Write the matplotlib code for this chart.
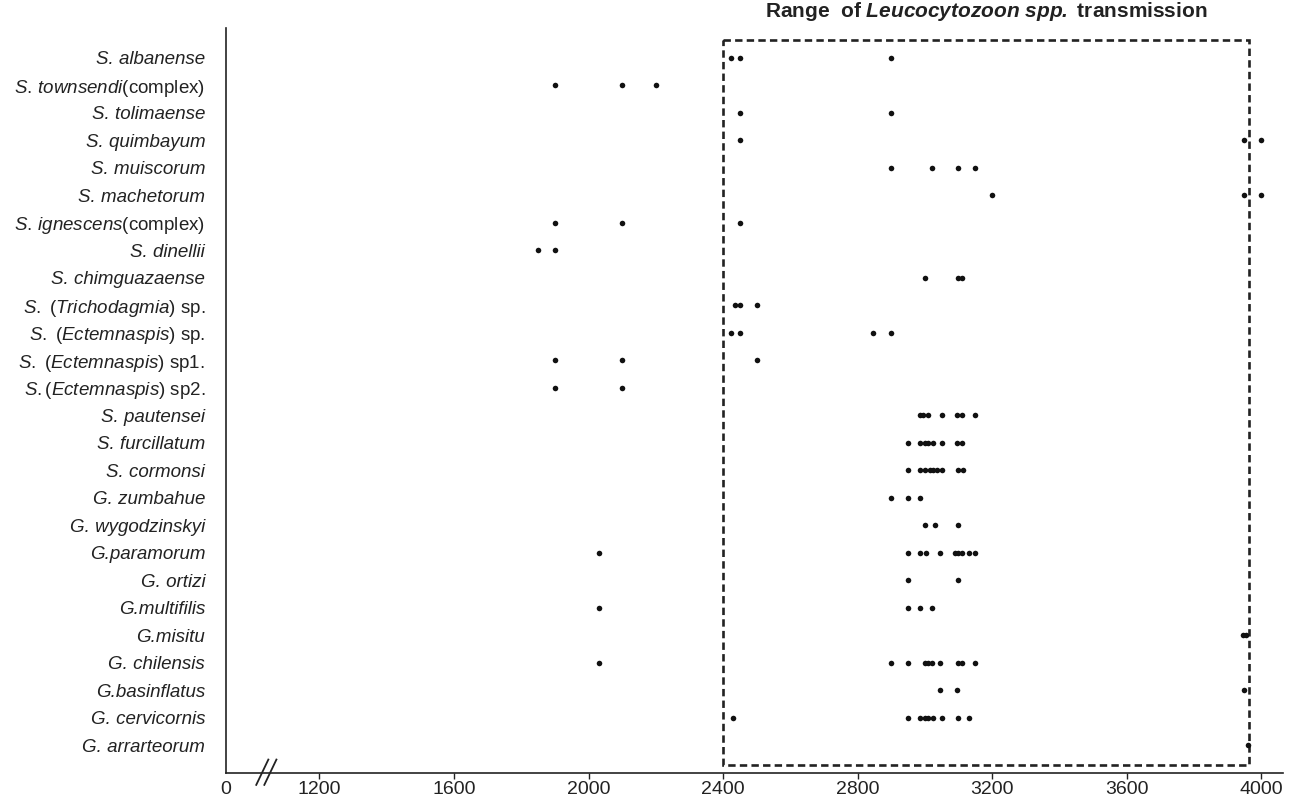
import matplotlib
matplotlib.use("Agg")
import matplotlib.pyplot as plt
from matplotlib.patches import Rectangle
from matplotlib.transforms import blended_transform_factory

plt.rcParams['font.family'] = 'Liberation Sans'
plt.rcParams['mathtext.fontset'] = 'custom'
plt.rcParams['mathtext.rm'] = 'Liberation Sans'
plt.rcParams['mathtext.it'] = 'Liberation Sans:italic'
plt.rcParams['mathtext.bfit'] = 'Liberation Sans:italic:bold'

# species, top to bottom
species = [
    "S. albanense",
    r"$\mathit{S.\,townsendi}$(complex)",
    "S. tolimaense",
    "S. quimbayum",
    "S. muiscorum",
    "S. machetorum",
    r"$\mathit{S.\,ignescens}$(complex)",
    "S. dinellii",
    "S. chimguazaense",
    r"$\mathit{S.}$ ($\mathit{Trichodagmia}$) sp.",
    r"$\mathit{S.}$ ($\mathit{Ectemnaspis}$) sp.",
    r"$\mathit{S.}$ ($\mathit{Ectemnaspis}$) sp1.",
    r"$\mathit{S.}$($\mathit{Ectemnaspis}$) sp2.",
    "S. pautensei",
    "S. furcillatum",
    "S. cormonsi",
    "G. zumbahue",
    "G. wygodzinskyi",
    "G.paramorum",
    "G. ortizi",
    "G.multifilis",
    "G.misitu",
    "G. chilensis",
    "G.basinflatus",
    "G. cervicornis",
    "G. arrarteorum",
]

# altitudes (m) where each species was collected
altitudes = [
    [2425, 2450, 2900],
    [1900, 2100, 2200],
    [2450, 2900],
    [2450, 3950, 4000],
    [2900, 3020, 3100, 3150],
    [3200, 3950, 4000],
    [1900, 2100, 2450],
    [1850, 1900],
    [3000, 3100, 3110],
    [2435, 2450, 2500],
    [2425, 2450, 2845, 2900],
    [1900, 2100, 2500],
    [1900, 2100],
    [2985, 2995, 3010, 3050, 3095, 3110, 3150],
    [2950, 2985, 3000, 3010, 3025, 3050, 3095, 3110],
    [2950, 2985, 3000, 3015, 3025, 3035, 3050, 3100, 3115],
    [2900, 2950, 2985],
    [3000, 3030, 3100],
    [2030, 2950, 2985, 3005, 3045, 3090, 3100, 3110, 3130, 3150],
    [2950, 3100],
    [2030, 2950, 2985, 3020],
    [3945, 3955],
    [2030, 2900, 2950, 3000, 3010, 3020, 3045, 3100, 3110, 3150],
    [3045, 3095, 3950],
    [2430, 2950, 2985, 3000, 3010, 3025, 3050, 3100, 3130],
    [3960],
]

range_low = 2400
range_high = 3965

xticks = [922, 1200, 1600, 2000, 2400, 2800, 3200, 3600, 4000]
xticklabels = ["0", "1200", "1600", "2000", "2400", "2800", "3200", "3600", "4000"]

fig = plt.figure(figsize=(12.95, 8.02), dpi=100)
ax = fig.add_axes([0.1745, 0.0362, 0.8162, 0.9289])

for i, vals in enumerate(altitudes):
    ax.plot(vals, [i] * len(vals), 'o', color='#111111', ms=4, mec='none')

ax.add_patch(Rectangle((range_low, -0.65), range_high - range_low, 26.35,
                       fill=False, ec='#222222', lw=1.9, ls=(0, (2.8, 1.6))))

ax.set_xlim(922, 4065)
ax.set_ylim(26.0, -1.09)
ax.set_yticks(range(len(species)))
ax.set_yticklabels(species, fontsize=13.5, color='#222222')
for lab in ax.get_yticklabels():
    if '$' not in lab.get_text():
        lab.set_fontstyle('italic')
ax.set_xticks(xticks)
ax.set_xticklabels(xticklabels, fontsize=14, color='#222222')
ax.tick_params(axis='y', length=0, pad=15)
ax.tick_params(axis='x', length=4, width=1, color='#222222', pad=2)
ax.xaxis.get_major_ticks()[0].tick1line.set_visible(False)

for s in ['top', 'right']:
    ax.spines[s].set_visible(False)
for s in ['left', 'bottom']:
    ax.spines[s].set_color('#222222')
    ax.spines[s].set_linewidth(1.2)

# axis break marks
tr = blended_transform_factory(ax.transData, ax.transAxes)
for x0 in [1012, 1036]:
    ax.plot([x0, x0 + 36], [-0.016, 0.018], color='#222222', lw=1.3,
            transform=tr, clip_on=False)

ax.text((range_low + range_high) / 2, 1.022,
        r"Range  of $\mathbfit{Leucocytozoon\ spp.}$ transmission",
        transform=tr, ha='center', va='center', fontsize=15,
        fontweight='bold', color='#222222')

fig.savefig('out.png', dpi=100)
